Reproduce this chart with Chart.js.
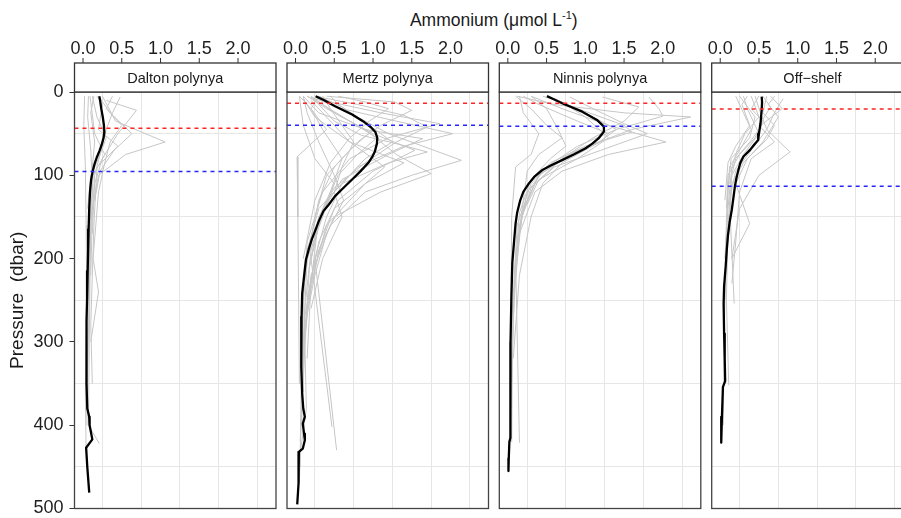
<!DOCTYPE html>
<html>
<head>
<meta charset="utf-8">
<script src="https://cdn.jsdelivr.net/npm/chart.js@4.4.1/dist/chart.umd.min.js"></script>
<style>
  html, body { margin: 0; padding: 0; background: #fff; width: 901px; height: 518px; overflow: hidden; }
  #wrap { position: relative; width: 901px; height: 518px; overflow: hidden; font-family: 'Liberation Sans', Arial, sans-serif; }
  #xtitle { position: absolute; left: 74.5px; width: 838.5px; top: 10px; text-align: center; font-size: 17.5px; line-height: 21px; color: #1a1a1a; white-space: nowrap; }
  #xtitle sup { font-size: 11px; line-height: 0; vertical-align: 7px; }
  canvas { position: absolute; top: 0; }
</style>
</head>
<body>
<div id="wrap">
  <div id="xtitle">Ammonium (μmol L<sup>-1</sup>)</div>
  <canvas id="p0"></canvas>
  <canvas id="p1"></canvas>
  <canvas id="p2"></canvas>
  <canvas id="p3"></canvas>
</div>
<script>
// facets
const panelNames = ['Dalton polynya', 'Mertz polynya', 'Ninnis polynya', 'Off\u2212shelf'];

// axis breaks
const xTicks = [0, 0.5, 1.0, 1.5, 2.0];
const xMinorTicks = [0.25, 0.75, 1.25, 1.75, 2.25];
const yTicks = [0, 100, 200, 300, 400, 500];
const yMinorTicks = [50, 150, 250, 350, 450];
const xMin = -0.11, xMax = 2.49;
const yMin = 0, yMax = 500;

// mixed-layer markers (dbar)
const redDepths = [43.5, 13.5, 13.5, 20.5];
const blueDepths = [95.5, 40, 41, 113];

// mean profiles: [ammonium, pressure]
const daltonMean = [[0.21,5],[0.22,10],[0.235,20],[0.255,30],[0.27,40],[0.275,48],[0.265,55],[0.245,62],[0.215,70],[0.18,78],[0.15,86],[0.125,95],[0.105,105],[0.09,120],[0.08,140],[0.072,165],[0.066,190],[0.06,215],[0.052,250],[0.045,275],[0.04,300],[0.045,325],[0.05,350],[0.055,380],[0.08,390],[0.085,400],[0.12,417],[0.04,427],[0.055,450],[0.08,481]];
const mertzMean = [[0.26,5],[0.37,10],[0.51,17],[0.73,27],[0.87,35],[0.97,42],[1.03,48],[1.055,55],[1.05,62],[1.025,71],[0.99,78],[0.94,85],[0.84,95],[0.73,105],[0.62,115],[0.51,125],[0.43,135],[0.36,143],[0.3,155],[0.26,165],[0.21,177],[0.17,189],[0.135,201],[0.12,213],[0.1,230],[0.086,242],[0.078,270],[0.073,302],[0.075,330],[0.086,362],[0.1,380],[0.12,390],[0.094,398],[0.11,410],[0.12,418],[0.094,428],[0.043,432],[0.043,450],[0.035,470],[0.022,495]];
const ninnisMean = [[0.505,5],[0.6,9],[0.7,13.5],[0.96,23.6],[1.15,33.5],[1.24,41.5],[1.24,47.5],[1.17,55.8],[1.09,62],[1.0,67.8],[0.85,75],[0.7,81.8],[0.56,88],[0.44,94],[0.34,102],[0.27,110],[0.2,120],[0.16,130],[0.12,145],[0.1,158],[0.08,180],[0.058,205],[0.045,250],[0.035,300],[0.03,350],[0.03,398],[0.04,415],[0.02,420],[0.012,440],[0.008,455]];
const offshelfMean = [[0.535,5.6],[0.54,12],[0.535,21.5],[0.52,37.5],[0.5,50],[0.49,57.5],[0.44,63],[0.385,69.5],[0.3,77.5],[0.26,85],[0.235,93.4],[0.21,103],[0.19,113],[0.17,127],[0.15,141],[0.12,157],[0.1,172],[0.085,189],[0.07,210],[0.05,233],[0.044,254],[0.05,290],[0.058,320],[0.064,347],[0.035,354],[0.022,390],[0.013,421]];

// individual casts: [ammonium, pressure]
const daltonCasts = [
  [[0.02,5],[0.01,40],[0.03,90],[0.04,160],[0.05,260],[0.03,360],[0.04,430]],
  [[0.07,5],[0.06,30],[0.1,70],[0.12,110],[0.08,180],[0.06,300],[0.05,400]],
  [[0.14,5],[0.1,25],[0.15,60],[0.09,120],[0.08,250]],
  [[0.48,6],[0.38,25],[0.3,45],[0.22,75],[0.15,100],[0.12,150],[0.1,220]],
  [[0.3,10],[0.69,22],[0.45,50],[0.25,80],[0.15,110],[0.12,170]],
  [[0.25,5],[0.42,35],[1.06,60],[0.55,75],[0.2,100],[0.1,150],[0.08,300],[0.07,400],[0.21,422]],
  [[0.2,5],[0.35,25],[0.63,50],[0.4,70],[0.22,95],[0.15,130]],
  [[0.38,5],[0.3,20],[0.5,40],[0.35,60],[0.28,85],[0.2,120],[0.13,200],[0.2,240],[0.1,300]],
  [[0.12,5],[0.18,30],[0.3,55],[0.2,80],[0.1,100],[0.06,140]],
  [[0.18,5],[0.25,15],[0.2,45],[0.45,65],[0.18,90],[0.14,160],[0.1,280],[0.12,350]],
  [[0.09,5],[0.15,50],[0.28,75],[0.13,100],[0.09,200],[0.06,330]]
];
const mertzCasts = [
  [[0.25,5],[0.45,12],[1.1,25],[1.86,38],[1.2,55],[0.7,80],[0.35,120],[0.15,180],[0.1,250],[0.08,350]],
  [[0.2,6],[0.6,20],[1.3,35],[2.03,50],[1.4,65],[0.8,90],[0.4,130],[0.2,190],[0.12,260],[0.1,330],[0.06,420]],
  [[0.3,8],[0.7,25],[1.2,50],[2.14,82],[1.5,100],[0.9,120],[0.45,160],[0.2,220],[0.1,300],[0.08,400]],
  [[0.15,5],[0.4,20],[0.9,45],[1.3,75],[1.75,98],[1.1,120],[0.5,150],[0.25,200],[0.12,270],[0.1,360]],
  [[0.4,5],[1.28,12],[1.5,22],[1.1,40],[0.8,60],[0.5,90],[0.3,130],[0.15,200],[0.1,300]],
  [[0.1,5],[0.3,25],[0.9,45],[1.64,56],[1.2,75],[0.6,105],[0.3,150],[0.2,230],[0.15,320]],
  [[0.2,5],[0.5,25],[1.0,50],[1.54,70],[1.0,95],[0.55,130],[0.3,180],[0.15,250]],
  [[0.05,5],[0.2,20],[0.4,45],[0.02,78],[0.03,150],[0.04,250],[0.05,350]],
  [[0.3,5],[0.6,18],[0.95,40],[1.25,60],[0.9,80],[0.6,110],[0.4,150],[0.25,200],[0.53,430]],
  [[0.15,5],[0.35,15],[0.7,35],[1.05,55],[0.8,75],[0.55,100],[0.35,140],[0.2,200],[0.47,402]],
  [[0.45,5],[0.55,15],[0.8,30],[1.0,45],[0.7,70],[0.4,100],[0.25,150],[0.12,220],[0.08,300],[0.06,450]],
  [[0.1,8],[0.25,30],[0.55,50],[0.85,70],[1.15,90],[0.9,110],[0.5,140],[0.3,190],[0.15,260],[0.1,340]],
  [[0.35,5],[0.45,20],[0.6,40],[0.75,60],[0.6,90],[0.5,120],[0.6,150],[0.35,200],[0.2,260]],
  [[0.2,10],[0.4,30],[0.7,60],[1.4,85],[0.9,110],[0.4,160],[0.2,230],[0.1,310],[0.07,400],[0.05,470]],
  [[0.25,5],[0.8,15],[1.4,28],[1.7,42],[1.3,60],[0.9,85],[0.5,115],[0.3,150],[0.18,210]],
  [[0.1,5],[0.15,25],[0.3,60],[0.5,100],[0.62,130],[0.4,170],[0.25,220],[0.12,280],[0.08,380]],
  [[0.3,5],[0.2,20],[0.35,45],[0.6,80],[0.45,120],[0.3,160],[0.18,210],[0.12,300],[0.14,380],[0.05,440]],
  [[0.05,5],[0.1,40],[0.25,80],[0.5,110],[0.35,150],[0.15,200],[0.08,260]],
  [[0.55,5],[0.9,12],[1.2,20],[0.95,35],[0.7,55],[0.45,85],[0.25,130],[0.1,200]],
  [[0.2,5],[0.5,35],[0.85,52],[1.3,62],[1.7,72],[1.2,85],[0.6,110],[0.3,140],[0.15,190]]
];
const ninnisCasts = [
  [[0.12,5],[0.6,15],[1.5,25],[2.36,30],[1.6,45],[0.9,70],[0.4,100],[0.2,140],[0.1,200],[0.06,300]],
  [[0.3,5],[0.7,20],[1.3,40],[2.04,60],[1.3,75],[0.7,95],[0.35,120],[0.15,170],[0.08,250],[0.05,350]],
  [[1.82,6],[1.95,20],[2.0,29],[1.4,45],[0.9,65],[0.5,90],[0.25,120],[0.12,180]],
  [[1.22,6],[1.69,18],[1.5,35],[1.1,55],[0.7,80],[0.35,110],[0.18,150],[0.1,220]],
  [[0.5,5],[0.9,20],[1.5,40],[1.6,48],[1.0,65],[0.55,85],[0.3,110],[0.12,160],[0.06,260],[0.04,380]],
  [[0.2,5],[0.4,15],[0.9,35],[1.3,50],[1.2,60],[0.8,75],[0.4,100],[0.2,140],[0.1,200],[0.15,421]],
  [[0.1,5],[0.3,20],[0.5,40],[0.7,55],[0.4,75],[0.25,95],[0.2,130],[0.1,200],[0.06,300],[0.05,420]],
  [[0.6,8],[1.0,25],[1.4,45],[1.15,62],[0.7,85],[0.45,110],[0.3,150],[0.15,220],[0.07,320]],
  [[0.3,5],[0.5,20],[0.65,45],[0.75,65],[0.55,80],[0.3,105],[0.15,145],[0.08,230]],
  [[0.8,6],[1.1,20],[1.5,38],[1.8,50],[1.2,70],[0.6,90],[0.3,115],[0.15,160],[0.07,250]],
  [[0.15,5],[0.2,25],[0.4,50],[0.3,75],[0.1,90],[0.05,150],[0.04,250]],
  [[0.45,5],[0.7,12],[1.0,30],[1.3,55],[0.9,80],[0.4,105],[0.25,135]]
];
const offshelfCasts = [
  [[0.2,5],[0.3,25],[0.4,45],[0.25,70],[0.12,90],[0.08,150],[0.06,250]],
  [[0.81,8],[0.7,25],[0.6,45],[0.9,72],[0.5,100],[0.25,140],[0.15,200]],
  [[0.45,5],[0.5,20],[0.6,45],[0.4,70],[0.2,95],[0.12,130],[0.18,254]],
  [[0.6,5],[0.55,25],[0.7,40],[0.6,57],[0.35,80],[0.2,110],[0.38,158],[0.15,200]],
  [[0.3,5],[0.35,20],[0.5,50],[0.3,75],[0.15,100],[0.1,160],[0.08,250],[0.11,352]],
  [[0.7,5],[0.62,15],[0.75,30],[0.55,60],[0.3,85],[0.15,110],[0.1,180]],
  [[0.25,5],[0.45,30],[0.38,55],[0.14,80],[0.1,120],[0.07,200],[0.05,300],[0.04,400]],
  [[0.5,5],[0.4,20],[0.55,35],[0.45,55],[0.25,75],[0.1,100],[0.08,140]],
  [[0.35,5],[0.28,15],[0.38,40],[0.2,65],[0.1,85],[0.06,130]],
  [[0.55,5],[0.65,18],[0.5,40],[0.7,60],[0.4,80],[0.25,120],[0.2,180],[0.15,230]],
  [[0.4,5],[0.5,30],[0.32,50],[0.22,70],[0.15,90],[0.1,140],[0.06,200]],
  [[0.65,5],[0.8,20],[0.55,38],[0.4,58],[0.2,80],[0.12,110]]
];

const means = [daltonMean, mertzMean, ninnisMean, offshelfMean];
const casts = [daltonCasts, mertzCasts, ninnisCasts, offshelfCasts];

// page geometry
const FONT = "'Liberation Sans', Arial, sans-serif";
const panelLeft = [74.5, 287, 499.3, 711.7];
const panelWidth = 201.5;
const plotTop = 92, plotBottom = 508.5, stripTop = 63, pageHeight = 518;
const yAxisWidth = 74.5;

const toPoints = arr => arr.map(([x, y]) => ({ x, y }));

// strip, panel frame and the top tick marks
const stripPlugin = {
  id: 'strip',
  afterDraw(chart, args, opts) {
    const { ctx, chartArea: a, scales } = chart;
    ctx.save();
    ctx.lineWidth = 1.3;
    ctx.strokeStyle = '#444';
    ctx.strokeRect(a.left, a.top, a.right - a.left, a.bottom - a.top);
    ctx.fillStyle = '#fff';
    ctx.fillRect(a.left, stripTop, a.right - a.left, a.top - stripTop);
    ctx.strokeStyle = '#333';
    ctx.strokeRect(a.left, stripTop, a.right - a.left, a.top - stripTop);
    ctx.fillStyle = '#1a1a1a';
    ctx.font = '14.5px ' + FONT;
    ctx.textAlign = 'center';
    ctx.textBaseline = 'middle';
    ctx.fillText(opts.label, (a.left + a.right) / 2, (stripTop + a.top) / 2 + 1);
    ctx.strokeStyle = '#333';
    ctx.lineWidth = 1;
    xTicks.forEach(v => {
      const px = scales.x.getPixelForValue(v);
      ctx.beginPath();
      ctx.moveTo(px, stripTop - 5);
      ctx.lineTo(px, stripTop);
      ctx.stroke();
    });
    ctx.restore();
  }
};

function makePanel(i) {
  const first = i === 0;
  const canvas = document.getElementById('p' + i);
  const canvasLeft = first ? 0 : Math.floor(panelLeft[i]) - 4;
  const padLeft = panelLeft[i] - canvasLeft - (first ? yAxisWidth : 0);
  const width = Math.ceil(panelLeft[i] + panelWidth + 4 - canvasLeft);
  const padRight = canvasLeft + width - (panelLeft[i] + panelWidth);
  canvas.width = width;
  canvas.height = pageHeight;
  canvas.style.left = canvasLeft + 'px';
  canvas.style.width = width + 'px';
  canvas.style.height = pageHeight + 'px';

  const datasets = casts[i].map(c => ({
    data: toPoints(c), showLine: true, borderColor: '#c6c6c6', borderWidth: 1, order: 3
  }));
  datasets.push({ data: toPoints(means[i]), showLine: true, borderColor: '#000', borderWidth: 2.3, order: 2 });
  datasets.push({
    data: [{ x: xMin, y: redDepths[i] }, { x: xMax, y: redDepths[i] }],
    showLine: true, borderColor: '#ff2424', borderWidth: 1.5, borderDash: [4, 4], order: 1
  });
  datasets.push({
    data: [{ x: xMin, y: blueDepths[i] }, { x: xMax, y: blueDepths[i] }],
    showLine: true, borderColor: '#2424ff', borderWidth: 1.5, borderDash: [4, 4], order: 1
  });

  new Chart(canvas, {
    type: 'scatter',
    data: { datasets },
    plugins: [stripPlugin],
    options: {
      responsive: false,
      animation: false,
      events: [],
      layout: { padding: { top: 0, left: padLeft, right: padRight, bottom: pageHeight - plotBottom } },
      elements: {
        point: { radius: 0, hoverRadius: 0 },
        line: { tension: 0, borderJoinStyle: 'round', borderCapStyle: 'butt' }
      },
      plugins: {
        legend: { display: false },
        tooltip: { enabled: false },
        strip: { label: panelNames[i] }
      },
      scales: {
        x: {
          type: 'linear', position: 'top', min: xMin, max: xMax,
          afterBuildTicks: s => { s.ticks = xTicks.map(v => ({ value: v })); },
          afterFit: s => { s.height = plotTop; s.paddingLeft = 0; s.paddingRight = 0; },
          grid: { display: false, drawTicks: false },
          border: { display: false },
          ticks: {
            padding: 32.5, color: '#1e1e1e', font: { family: FONT, size: 18 },
            maxRotation: 0, callback: v => Number(v).toFixed(1)
          }
        },
        xGrid: {
          type: 'linear', position: 'bottom', min: xMin, max: xMax,
          afterBuildTicks: s => { s.ticks = xMinorTicks.map(v => ({ value: v })); },
          afterFit: s => { s.height = 0; s.paddingLeft = 0; s.paddingRight = 0; },
          grid: { color: '#e6e6e6', lineWidth: 1, drawTicks: false },
          border: { display: false },
          ticks: { display: false }
        },
        y: {
          type: 'linear', position: 'left', reverse: true, min: yMin, max: yMax,
          afterBuildTicks: s => { s.ticks = yTicks.map(v => ({ value: v })); },
          afterFit: s => { s.width = first ? yAxisWidth : 0; s.paddingTop = 0; s.paddingBottom = 0; },
          grid: { drawOnChartArea: false, drawTicks: first, tickLength: 5, color: '#333', tickColor: '#333', lineWidth: 1 },
          border: { display: false },
          ticks: { display: first, padding: 6, color: '#1e1e1e', font: { family: FONT, size: 18 } },
          title: {
            display: first, text: 'Pressure  (dbar)', color: '#1a1a1a',
            font: { family: FONT, size: 19 }, padding: { top: 6, bottom: 0 }
          }
        },
        yGrid: {
          type: 'linear', position: 'left', reverse: true, min: yMin, max: yMax,
          afterBuildTicks: s => { s.ticks = yMinorTicks.map(v => ({ value: v })); },
          afterFit: s => { s.width = 0; s.paddingTop = 0; s.paddingBottom = 0; },
          grid: { color: '#e6e6e6', lineWidth: 1, drawTicks: false },
          border: { display: false },
          ticks: { display: false }
        }
      }
    }
  });
}

panelNames.forEach((_, i) => makePanel(i));
</script>
</body>
</html>
